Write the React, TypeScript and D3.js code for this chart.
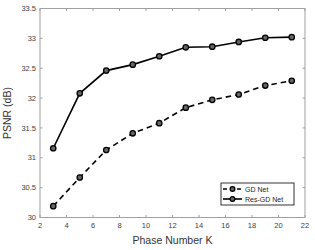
import React from "react";
import * as d3 from "d3";

const phases = [3, 5, 7, 9, 11, 13, 15, 17, 19, 21];
const gdNet = [30.19, 30.67, 31.13, 31.41, 31.58, 31.84, 31.97, 32.06, 32.21, 32.29];
const resGdNet = [31.16, 32.08, 32.46, 32.56, 32.70, 32.85, 32.86, 32.94, 33.01, 33.02];
const xTicks = [2, 4, 6, 8, 10, 12, 14, 16, 18, 20, 22];
const yTicks = [30, 30.5, 31, 31.5, 32, 32.5, 33, 33.5];
const seriesNames = ["GD Net", "Res-GD Net"];

export default function App() {
  const W = 315, H = 250;
  const left = 40, right = 305, top = 8.5, bottom = 217.5;
  const x = d3.scaleLinear().domain([2, 22]).range([left, right]);
  const y = d3.scaleLinear().domain([30, 33.5]).range([bottom, top]);
  const line = d3.line<number>().x((_, i) => x(phases[i])).y((v) => y(v));
  const axisColor = "#a0a0a0";
  const textColor = "#404040";
  const font = "Liberation Sans, Arial, sans-serif";
  const tick = 2.5;
  const series = [
    { data: gdNet, dash: "5.5,4" },
    { data: resGdNet, dash: "" },
  ];
  return (
    <svg width={W} height={H} style={{ position: "absolute", left: 0, top: 0 }} fontFamily={font}>
      <rect x={0} y={0} width={W} height={H} fill="white" />
      <rect x={left} y={top} width={right - left} height={bottom - top} fill="none" stroke={axisColor} strokeWidth={1} />
      {xTicks.map((t) => (
        <g key={"x" + t}>
          <line x1={x(t)} x2={x(t)} y1={bottom} y2={bottom - tick} stroke={axisColor} />
          <line x1={x(t)} x2={x(t)} y1={top} y2={top + tick} stroke={axisColor} />
          <text x={x(t)} y={bottom + 10} fontSize={7.5} fill={textColor} textAnchor="middle">{t}</text>
        </g>
      ))}
      {yTicks.map((t) => (
        <g key={"y" + t}>
          <line x1={left} x2={left + tick} y1={y(t)} y2={y(t)} stroke={axisColor} />
          <line x1={right} x2={right - tick} y1={y(t)} y2={y(t)} stroke={axisColor} />
          <text x={left - 4} y={y(t) + 2.6} fontSize={7.5} fill={textColor} textAnchor="end">{t}</text>
        </g>
      ))}
      <text x={(left + right) / 2} y={244} fontSize={10.5} fill="#333" textAnchor="middle">Phase Number K</text>
      <text transform={`translate(11,${(top + bottom) / 2}) rotate(-90)`} fontSize={10.5} fill="#333" textAnchor="middle">PSNR (dB)</text>
      {series.map((s, si) => (
        <g key={"s" + si}>
          <path d={line(s.data) || ""} fill="none" stroke="black" strokeWidth={1.6} strokeDasharray={s.dash} />
          {s.data.map((v, i) => (
            <circle key={i} cx={x(phases[i])} cy={y(v)} r={2.7} fill="#666" stroke="black" strokeWidth={1.3} />
          ))}
        </g>
      ))}
      <g>
        <rect x={221} y={183} width={73} height={22} fill="white" stroke="black" strokeWidth={0.8} />
        {seriesNames.map((n, i) => (
          <g key={n}>
            <line x1={223} x2={242} y1={189 + i * 10} y2={189 + i * 10} stroke="black" strokeWidth={1.6} strokeDasharray={series[i].dash ? "4,3" : ""} />
            <circle cx={232.5} cy={189 + i * 10} r={2.4} fill="#666" stroke="black" strokeWidth={1.2} />
            <text x={245} y={191.5 + i * 10} fontSize={7} fill="#222">{n}</text>
          </g>
        ))}
      </g>
    </svg>
  );
}
